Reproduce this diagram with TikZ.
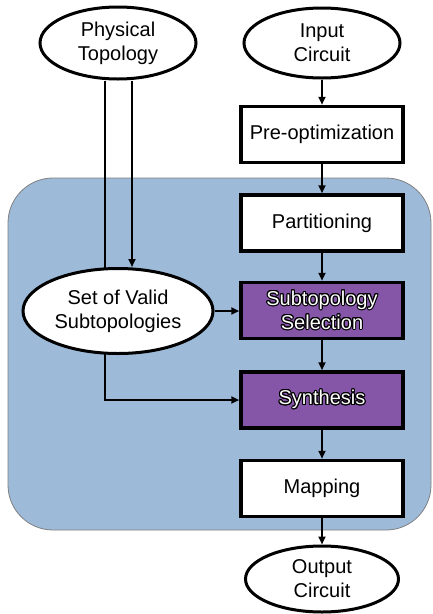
\documentclass[tikz,border=0pt]{standalone}
\usepackage{fontspec}
\setmainfont{Liberation Sans}
\usepackage{contour}
\contourlength{1pt}
\usetikzlibrary{shapes.geometric,arrows.meta}
\definecolor{bluebg}{HTML}{9DBAD9}
\definecolor{purplebox}{HTML}{8555A8}
\begin{document}
\begin{tikzpicture}[x=1pt,y=-1pt,
  every node/.style={font=\fontsize{20}{24}\selectfont, align=center, inner sep=0pt},
  oval/.style={ellipse, draw=black, line width=3pt, fill=white},
  stepbox/.style={rectangle, draw=black, line width=3.5pt, fill=white, minimum width=162pt, minimum height=56pt},
  purplestep/.style={stepbox, fill=purplebox, text=white},
  conn/.style={line width=2.8pt, -{Triangle[length=8pt,width=7pt]}}]
\useasboundingbox (0,0) rectangle (432,614);
\fill[bluebg, draw=gray, line width=0.8pt, rounded corners=45pt] (8,178) rectangle (431,530);

\node[oval, minimum width=156pt, minimum height=72pt] (phys) at (118,43) {Physical\\Topology};
\node[oval, minimum width=156pt, minimum height=70pt] (inp) at (322,43) {Input\\Circuit};
\node[stepbox] (pre) at (322,134.5) {Pre-optimization};
\node[stepbox] (part) at (322,223) {Partitioning};
\node[purplestep] (sub) at (322,310.5) {\contour{black}{Subtopology}\\\contour{black}{Selection}};
\node[purplestep] (syn) at (322,400) {\contour{black}{Synthesis}};
\node[stepbox] (map) at (322,488.5) {Mapping};
\coordinate (bend) at (105,400);
\draw[conn] (phys.south -| bend) -- (bend) -- (syn.west);
\node[oval, minimum width=190pt, minimum height=85pt] (set) at (118,311) {Set of Valid\\Subtopologies};
\node[oval, minimum width=153pt, minimum height=66pt] (out) at (322,579) {Output\\Circuit};

\coordinate (px) at (132,0);
\draw[conn] (phys.south -| px) -- (set.north -| px);
\draw[conn] (inp) -- (pre);
\draw[conn] (pre) -- (part);
\draw[conn] (part) -- (sub);
\draw[conn] (sub) -- (syn);
\draw[conn] (syn) -- (map);
\draw[conn] (map) -- (out);
\draw[conn] (set.east) -- (sub.west |- set.east);
\end{tikzpicture}
\end{document}
